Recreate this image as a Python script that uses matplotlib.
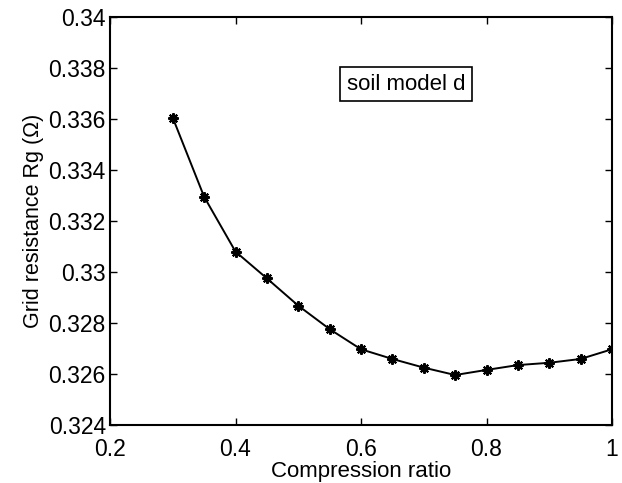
import matplotlib
matplotlib.use("Agg")
import matplotlib.pyplot as plt

plt.rcParams["font.family"] = ["Liberation Sans", "DejaVu Sans"]

ratio = [0.3, 0.35, 0.4, 0.45, 0.5, 0.55, 0.6, 0.65, 0.7, 0.75, 0.8, 0.85, 0.9, 0.95, 1.0]
rg = [0.33605, 0.33295, 0.3308, 0.32975, 0.32868, 0.32776, 0.32697, 0.32659,
      0.32625, 0.32596, 0.32616, 0.32635, 0.32644, 0.32659, 0.32697]

xticks = [0.2, 0.4, 0.6, 0.8, 1.0]
xtick_labels = ["0.2", "0.4", "0.6", "0.8", "1"]
yticks = [0.324, 0.326, 0.328, 0.33, 0.332, 0.334, 0.336, 0.338, 0.34]
ytick_labels = ["0.324", "0.326", "0.328", "0.33", "0.332", "0.334", "0.336", "0.338", "0.34"]

fig = plt.figure(figsize=(6.22, 4.83), dpi=100)
ax = fig.add_axes([110 / 622, 1 - 425 / 483, 502 / 622, 408 / 483])

# asterisk marker: plus and cross together
ax.plot(ratio, rg, color="black", linewidth=1.4, marker=(8, 2, 0), markersize=7.5,
        markeredgewidth=1.5)

ax.set_xlim(0.2, 1.0)
ax.set_ylim(0.324, 0.34)
ax.set_xticks(xticks)
ax.set_xticklabels(xtick_labels)
ax.set_yticks(yticks)
ax.set_yticklabels(ytick_labels)
ax.tick_params(direction="in", top=True, right=True, length=5, width=1,
               labelsize=16.5, pad=3)
ax.tick_params(axis="x", pad=9)
for s in ax.spines.values():
    s.set_linewidth(1.5)

ax.set_xlabel("Compression ratio", fontsize=16, labelpad=0)
ax.set_ylabel("Grid resistance Rg (Ω)", fontsize=15.5, labelpad=3)

ax.text(0.577, 0.33737, "soil model d", fontsize=16, va="center", ha="left",
        bbox=dict(boxstyle="square,pad=0.3", facecolor="white", edgecolor="black", linewidth=1.2))

fig.savefig("out.png", dpi=100)
